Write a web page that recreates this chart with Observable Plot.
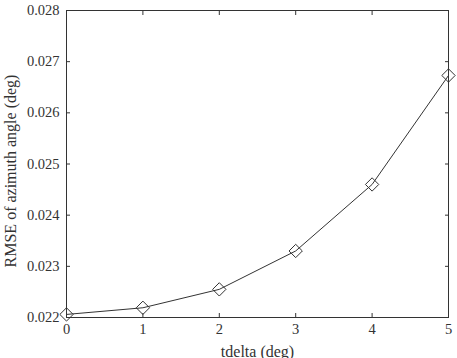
<!DOCTYPE html>
<html>
<head>
<meta charset="utf-8">
<script src="https://cdn.jsdelivr.net/npm/d3@7"></script>
<script src="https://cdn.jsdelivr.net/npm/@observablehq/plot@0.6"></script>
<style>
  html, body { margin: 0; padding: 0; background: #fff; }
  #chart svg { display: block; }
</style>
</head>
<body>
<div id="chart"></div>
<script>
const tdelta = [0, 1, 2, 3, 4, 5];
const rmse = [0.02206, 0.02219, 0.02255, 0.0233, 0.0246, 0.02673];
const xTicks = [0, 1, 2, 3, 4, 5];
const yTicks = [0.022, 0.023, 0.024, 0.025, 0.026, 0.027, 0.028];
const xLabel = "tdelta (deg)";
const yLabel = "RMSE of azimuth angle (deg)";

const data = tdelta.map((t, i) => ({t, v: rmse[i]}));
const ink = "#333";

const chart = Plot.plot({
  width: 457,
  height: 358,
  marginLeft: 66,
  marginRight: 9,
  marginTop: 10,
  marginBottom: 41,
  style: {fontFamily: "'Liberation Serif', 'DejaVu Serif', serif", fontSize: "14.5px", color: ink, background: "#fff"},
  x: {domain: [0, 5]},
  y: {domain: [0.022, 0.028]},
  marks: [
    Plot.frame({stroke: ink, strokeWidth: 1}),
    Plot.axisX({anchor: "bottom", ticks: xTicks, tickSize: -4, tickPadding: 10, tickFormat: d3.format("d"), label: null, stroke: ink}),
    Plot.axisX({anchor: "top", ticks: xTicks, tickSize: -4, text: null, label: null, stroke: ink}),
    Plot.axisY({anchor: "left", ticks: yTicks, tickSize: -4, tickPadding: 11, tickFormat: d3.format(".3f"), label: null, stroke: ink}),
    Plot.axisY({anchor: "right", ticks: yTicks, tickSize: -4, text: null, label: null, stroke: ink}),
    Plot.text([xLabel], {frameAnchor: "bottom", text: d => d, textAnchor: "middle", lineAnchor: "top", dy: 28, fontSize: 16, fill: ink}),
    Plot.text([yLabel], {frameAnchor: "left", text: d => d, textAnchor: "middle", lineAnchor: "middle", rotate: -90, dx: -56, dy: 7, fontSize: 16, fill: ink}),
    Plot.line(data, {x: "t", y: "v", stroke: ink, strokeWidth: 1}),
    Plot.dot(data, {x: "t", y: "v", symbol: "diamond2", r: 6, stroke: ink, fill: "none", strokeWidth: 1})
  ]
});
document.getElementById("chart").appendChild(chart);
</script>
</body>
</html>
